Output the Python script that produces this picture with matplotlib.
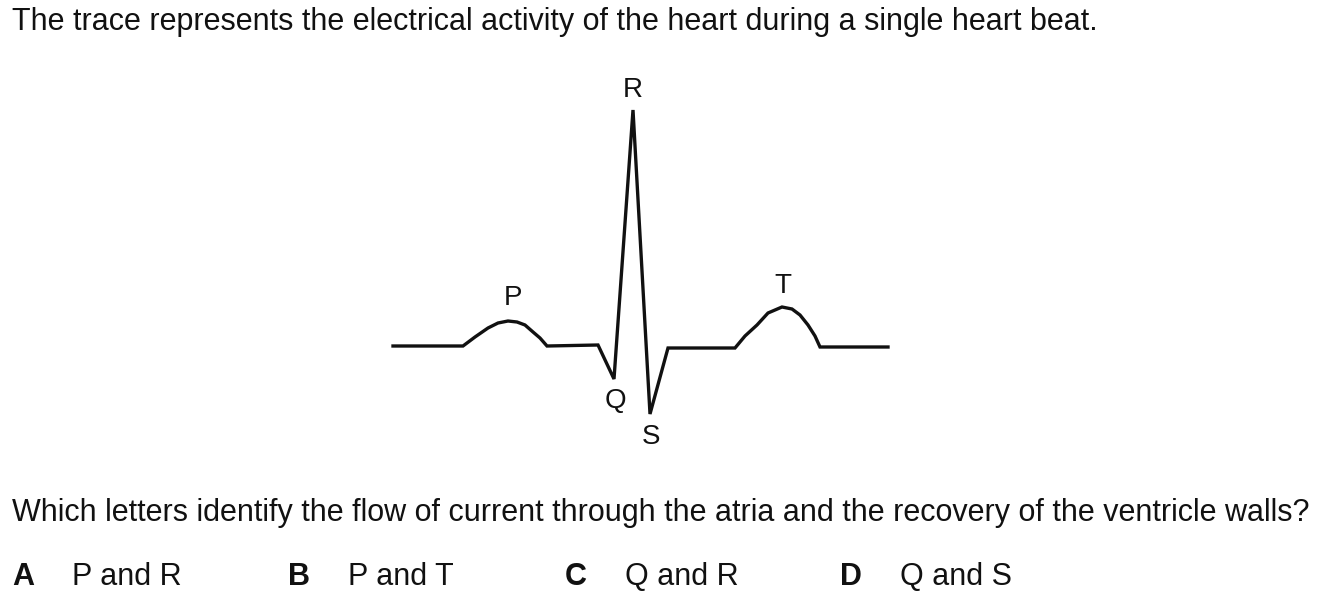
"""Single heart beat ECG trace with P, Q, R, S, T labels and a multiple-choice question."""
import matplotlib.pyplot as plt

plt.rcParams["font.family"] = ["Liberation Sans", "DejaVu Sans"]

# trace: time (arbitrary units) and voltage (arbitrary units, baseline = 0)
ecg_t = [0, 70, 82, 95, 105, 115, 124, 132, 140, 147, 154,
         205, 221, 240, 257, 275,
         342, 352, 364, 375, 389, 399, 407, 415, 422, 427, 495]
ecg_v = [0, 0, 9, 18, 23, 25, 24, 21, 14, 8, 0,
         1, -33, 236, -68, -2,
         -2, 10, 21, 33, 39, 37, 31, 21, 10, -1, -1]

wave_names = ["P", "Q", "R", "S", "T"]
wave_t = [120, 222, 240, 258, 390]
wave_v = [48, -55, 256, -91, 60]

title = "The trace represents the electrical activity of the heart during a single heart beat."
question = ("Which letters identify the flow of current through the atria "
            "and the recovery of the ventricle walls?")
option_keys = ["A", "B", "C", "D"]
option_texts = ["P and R", "P and T", "Q and R", "Q and S"]

fig = plt.figure(figsize=(13.2, 6.0), dpi=100)
ax = fig.add_axes([0, 0, 1, 1])
ax.set_xlim(-393, 1320 - 393)
ax.set_ylim(346 - 600, 346)
ax.axis("off")

ax.plot(ecg_t, ecg_v, color="#111111", lw=2.4, solid_joinstyle="miter")

for name, t, v in zip(wave_names, wave_t, wave_v):
    ax.text(t, v, name, ha="center", va="center", fontsize=20, color="#111111")

fig.text(12 / 1320, 1 - 22 / 600, title, ha="left", va="center", fontsize=22, color="#111111")
fig.text(12 / 1320, 1 - 513 / 600, question, ha="left", va="center", fontsize=22, color="#111111")

key_x = [12, 288, 565, 840]
for k, txt, x in zip(option_keys, option_texts, key_x):
    fig.text(x / 1320, 1 - 577 / 600, k, ha="left", va="center", fontsize=22,
             fontweight="bold", color="#111111")
    fig.text((x + 60) / 1320, 1 - 577 / 600, txt, ha="left", va="center", fontsize=22,
             color="#111111")

plt.savefig("out.png", dpi=100)
